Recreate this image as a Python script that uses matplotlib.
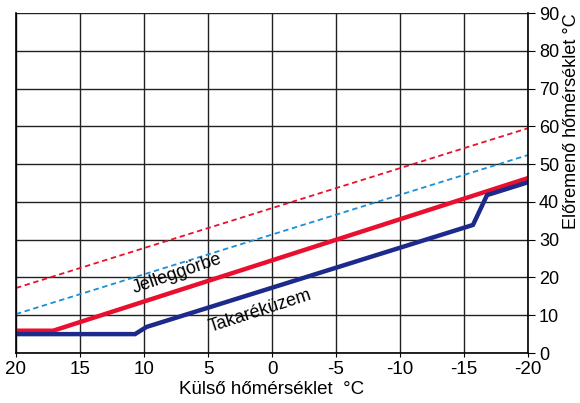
import matplotlib
matplotlib.use("Agg")
import matplotlib.pyplot as plt

plt.rcParams['font.family'] = ['Liberation Sans', 'DejaVu Sans']
plt.rcParams['axes.unicode_minus'] = False

# data
red_dash_x = [20, -20]
red_dash_y = [17.2, 59.5]
blue_dash_x = [20, -20]
blue_dash_y = [10.3, 52.4]
jelleg_x = [20, 17.1, -20]
jelleg_y = [5.9, 5.9, 46.3]
takarek_x = [20, 10.7, 9.8, -15.7, -16.8, -20]
takarek_y = [5.0, 5.0, 6.9, 33.9, 41.8, 45.2]
xticks = [20, 15, 10, 5, 0, -5, -10, -15, -20]
yticks = [0, 10, 20, 30, 40, 50, 60, 70, 80, 90]

fig = plt.figure(figsize=(5.8, 4.03), dpi=100)
ax = fig.add_axes([16/580, 1-353/403, (528-16)/580, (353-13)/403])

ax.set_xlim(20, -20)
ax.set_ylim(0, 90)
ax.set_xticks(xticks)
ax.set_yticks(yticks)
ax.grid(True, color='#222222', linewidth=1.0)
ax.set_axisbelow(True)
for s in ax.spines.values():
    s.set_color('black')
    s.set_linewidth(1.2)
ax.spines['top'].set_visible(False)

ax.yaxis.tick_right()
ax.tick_params(axis='y', direction='out', length=5, labelsize=13, pad=3)
ax.tick_params(axis='x', direction='out', length=3, labelsize=13.5, pad=3)

ax.plot(red_dash_x, red_dash_y, color='#e8102e', lw=1.3, ls=(0, (3, 2)))
ax.plot(blue_dash_x, blue_dash_y, color='#1a8fd6', lw=1.3, ls=(0, (3, 2)))
ax.plot(jelleg_x, jelleg_y, color='#e8102e', lw=3.2, solid_joinstyle='miter')
ax.plot(takarek_x, takarek_y, color='#1c2a8c', lw=3.2, solid_joinstyle='miter')

ax.text(7.4, 21.0, 'Jelleggörbe', rotation=19, fontsize=13, ha='center', va='center',
        rotation_mode='anchor')
ax.text(0.9, 11.2, 'Takaréküzem', rotation=18, fontsize=13, ha='center', va='center',
        rotation_mode='anchor')

ax.set_xlabel('Külső hőmérséklet  °C', fontsize=13.5, labelpad=2)
fig.text(572/580, 1-121/403, 'Előremenő hőmérséklet °C', rotation=90, fontsize=13,
         ha='center', va='center')

fig.savefig('out.png', dpi=100)
